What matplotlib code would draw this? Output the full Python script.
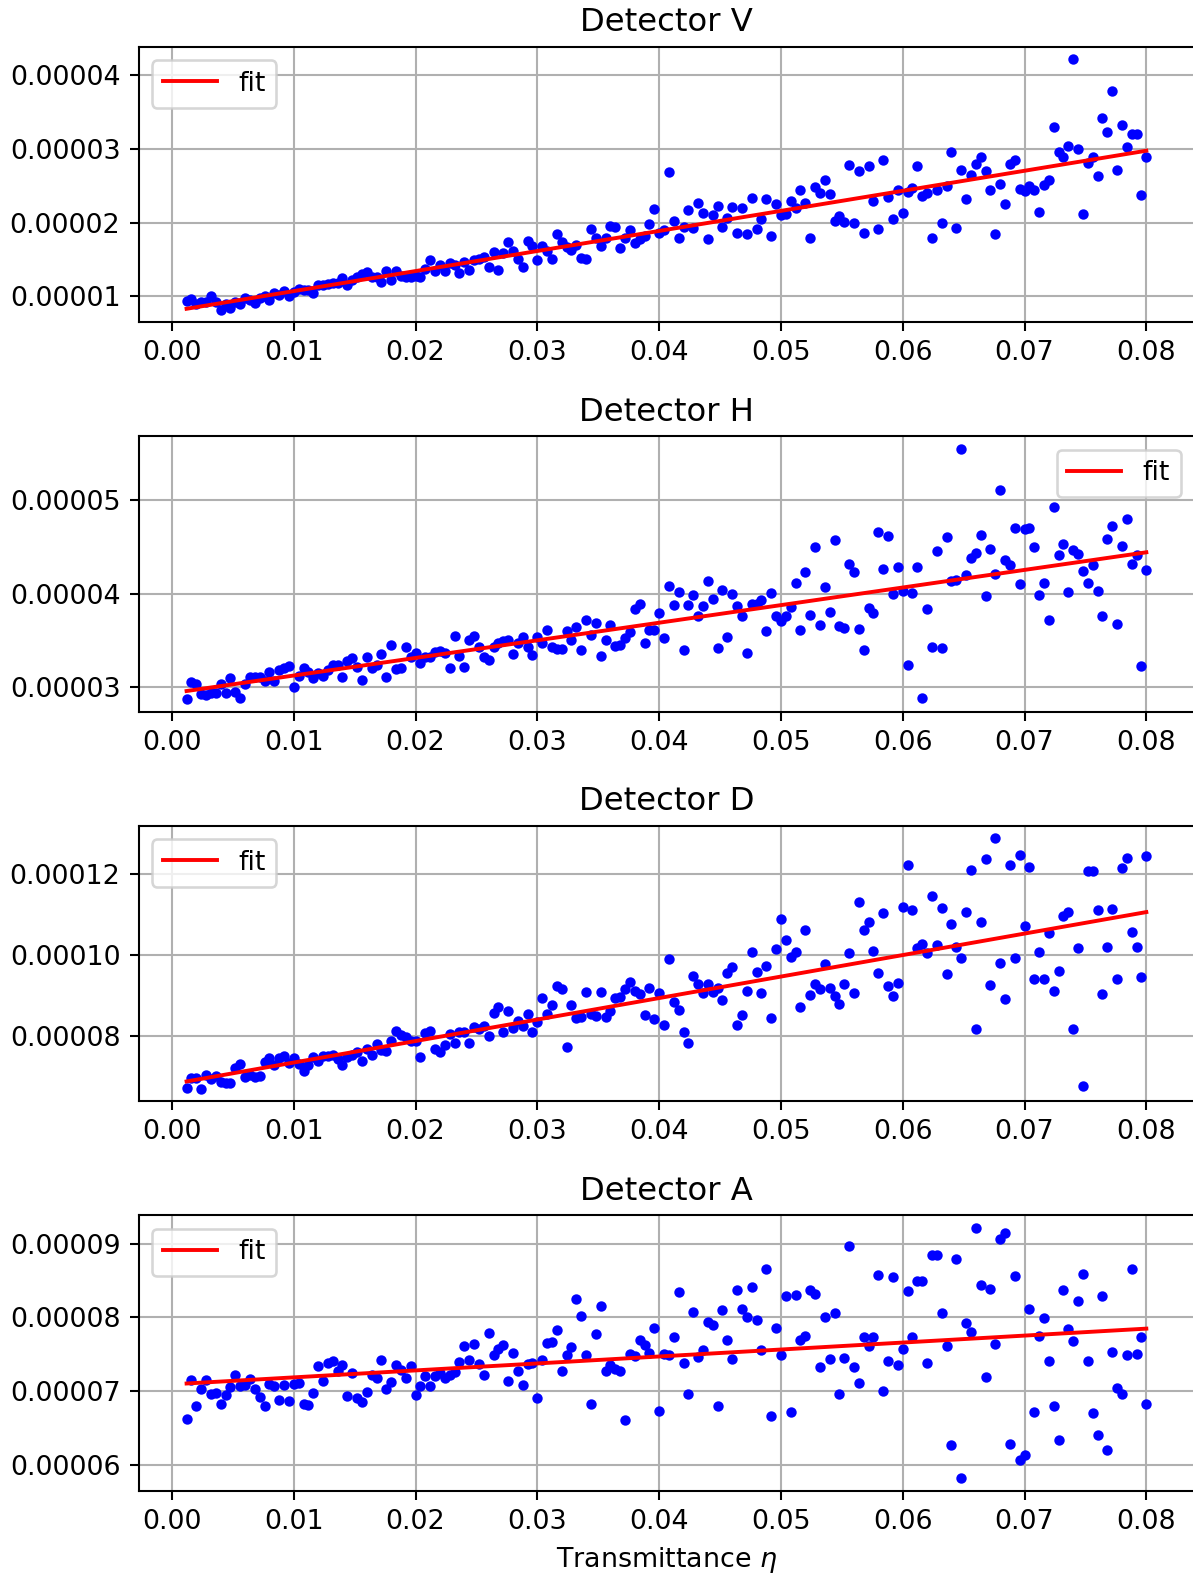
import numpy as np
import matplotlib
matplotlib.use("Agg")
import matplotlib.pyplot as plt
from matplotlib.ticker import ScalarFormatter

# Transmittance grid (step 0.0004 from 0.0012 to 0.08)
eta = 0.0012 + 0.0004 * np.arange(198)

# Detector readings, in units of 1e-5
det_V = np.array([
    0.933, 0.969, 0.90, 0.92, 0.92, 1.00, 0.93, 0.82, 0.90, 0.84,
    0.93, 0.90, 0.98, 0.95, 0.91, 0.98, 1.00, 0.95, 1.05, 1.02,
    1.07, 1.00, 1.06, 1.10, 1.09, 1.09, 1.05, 1.15, 1.16, 1.17,
    1.18, 1.18, 1.25, 1.16, 1.23, 1.27, 1.31, 1.33, 1.26, 1.27,
    1.19, 1.34, 1.22, 1.34, 1.28, 1.27, 1.27, 1.28, 1.27, 1.37,
    1.49, 1.35, 1.43, 1.34, 1.45, 1.42, 1.32, 1.47, 1.36, 1.49,
    1.51, 1.54, 1.40,
    1.597, 1.359, 1.584, 1.732, 1.611, 1.507, 1.404, 1.754, 1.687, 1.498,
    1.687, 1.620, 1.507, 1.853, 1.745, 1.665, 1.633, 1.700, 1.521, 1.503,
    1.912, 1.799, 1.687, 1.790, 1.956, 1.943, 1.656, 1.799, 1.898, 1.723,
    1.777, 1.813, 1.979, 2.190, 1.858, 1.898, 2.684, 2.024, 1.786, 1.947,
    2.172, 1.925, 2.271, 2.136, 1.777, 2.100, 2.226, 1.943, 2.069, 2.217,
    1.867, 2.194, 1.853, 2.338, 1.920, 2.055, 2.316, 1.813, 2.248, 2.100,
    2.114, 2.293, 2.203, 2.441, 2.262, 1.799, 2.482, 2.405, 2.585, 2.383,
    2.024, 2.091, 2.010, 2.787,
    1.992, 2.697, 1.867, 2.774, 2.293, 1.920, 2.846, 2.347, 2.046, 2.437,
    2.127, 2.414, 2.473, 2.774, 2.361, 2.405, 1.795, 2.437, 1.992, 2.495,
    2.958, 1.925, 2.720, 2.316, 2.652, 2.796, 2.890, 2.706, 2.437, 1.844,
    2.531, 2.257, 2.796, 2.855, 2.450, 2.428, 2.495, 2.441, 2.150, 2.504,
    2.585, 3.295, 2.958, 2.886, 3.034, 4.215, 3.003, 2.118, 2.810, 2.890,
    2.630, 3.425, 3.227, 3.788, 2.720, 3.317, 3.021, 3.205, 3.205, 2.370,
    2.886,
])

det_H = np.array([
    2.864, 3.054, 3.032, 2.918, 2.907, 2.936, 2.936, 3.025, 2.929, 3.089,
    2.943, 2.875, 3.025, 3.107, 3.107, 3.107, 3.061, 3.157, 3.061, 3.179,
    3.196, 3.221, 3.000, 3.114, 3.196, 3.157, 3.089, 3.143, 3.114, 3.179,
    3.229, 3.229, 3.104, 3.275, 3.311, 3.211, 3.071, 3.321, 3.196, 3.232,
    3.354, 3.107, 3.443, 3.186, 3.204, 3.425, 3.321, 3.357, 3.250, 3.321,
    3.321, 3.375, 3.382, 3.364, 3.204, 3.543, 3.329, 3.214, 3.500, 3.543,
    3.429, 3.318, 3.286, 3.425, 3.471,
    3.489, 3.500, 3.346, 3.471, 3.536, 3.429, 3.339, 3.532, 3.471, 3.607,
    3.429, 3.400, 3.400, 3.596, 3.500, 3.643, 3.393, 3.711, 3.554, 3.679,
    3.325, 3.504, 3.661, 3.436, 3.446, 3.525, 3.589, 3.839, 3.893, 3.468,
    3.604, 3.607, 3.789, 3.525, 4.086, 3.875, 4.018, 3.393, 3.882, 3.989,
    3.754, 3.871, 4.132, 3.943, 3.411, 4.043, 3.532, 3.996, 3.864, 3.764,
    3.361, 3.893, 3.893, 3.929, 3.596, 4.007, 3.764, 3.704, 3.757, 3.854,
    4.111, 3.614, 4.232, 3.775, 4.504, 3.661, 4.071, 3.804, 4.575, 3.650,
    3.625, 4.318,
    4.229, 3.618, 3.389, 3.846, 3.786, 4.657, 4.264, 4.621, 4.000, 4.286,
    4.025, 3.236, 4.011, 4.286, 2.875, 3.832, 3.429, 4.461, 3.414, 4.607,
    4.132, 4.143, 5.554, 4.204, 4.382, 4.436, 4.625, 3.971, 4.482, 4.211,
    5.107, 4.357, 4.311, 4.704, 4.104, 4.696, 4.704, 4.496, 3.989, 4.114,
    3.718, 4.929, 4.418, 4.532, 4.014, 4.471, 4.425, 4.246, 4.114, 4.307,
    4.025, 3.764, 4.586, 4.721, 3.671, 4.514, 4.800, 4.318, 4.411, 3.225,
    4.250,
])

det_D = np.array([
    6.719, 6.965, 6.965, 6.702, 7.031, 6.949, 7.006, 6.858, 6.834, 6.834,
    7.211, 7.310, 6.981, 7.047, 6.981, 7.006, 7.351, 7.458, 7.277, 7.474,
    7.515, 7.335, 7.458, 7.310, 7.146, 7.277, 7.483, 7.392, 7.499, 7.515,
    7.524, 7.433, 7.277, 7.483, 7.524, 7.622, 7.392, 7.688, 7.540, 7.811,
    7.663, 7.639, 7.893, 8.131, 8.033, 7.975, 7.893, 7.893, 7.483, 8.074,
    8.140, 7.688, 7.606, 7.786, 8.057, 7.828, 8.115, 8.115, 7.844, 8.222,
    8.181, 8.255, 8.016, 8.583, 8.731,
    8.115, 8.624, 8.197, 8.386, 8.263, 8.550, 8.099, 8.361, 8.936, 8.550,
    8.772, 9.249, 9.166, 7.721, 8.772, 8.460, 8.468, 9.084, 8.550, 8.509,
    9.101, 8.476, 8.624, 8.953, 8.977, 9.166, 9.347, 9.125, 9.035, 8.526,
    9.199, 8.427, 9.060, 8.279, 9.897, 8.838, 8.641, 8.107, 7.836, 9.495,
    9.281, 9.060, 9.281, 9.101, 9.199, 8.887, 9.552, 9.700, 8.279, 8.517,
    9.125, 10.086, 9.594, 9.076, 9.741, 8.460, 10.152, 10.883, 10.366, 9.947,
    10.086, 8.715, 10.620, 9.019, 9.298, 9.166, 9.782, 9.183, 9.002, 8.789,
    9.298, 10.062,
    9.060, 11.318, 10.620, 10.809, 10.111, 9.552, 11.031, 9.240, 8.994, 9.322,
    11.179, 12.238, 11.121, 10.185, 10.275, 10.045, 11.458, 10.251, 11.171, 9.528,
    10.768, 10.210, 9.939, 11.072, 12.099, 8.172, 10.826, 12.378, 9.273, 12.887,
    9.815, 8.920, 12.238, 9.922, 12.468, 10.727, 12.173, 9.405, 10.070, 9.405,
    10.555, 9.125, 9.602, 10.973, 11.056, 8.172, 10.177, 6.776, 12.066, 12.066,
    11.105, 9.043, 10.193, 11.130, 9.421, 12.140, 12.395, 10.579, 10.210, 9.470,
    12.452,
])

det_A = np.array([
    6.621, 7.149, 6.802, 7.023, 7.149, 6.959, 6.982, 6.824, 6.946, 7.059,
    7.217, 7.068, 7.081, 7.162, 7.036, 6.923, 6.802, 7.104, 7.072, 6.887,
    7.081, 6.865, 7.104, 7.117, 6.820, 6.811, 6.982, 7.338, 7.140, 7.388,
    7.410, 7.275, 7.361, 6.937, 7.253, 6.910, 6.847, 6.991, 7.217, 7.185,
    7.419, 7.032, 7.126, 7.361, 7.284, 7.185, 7.343, 6.946, 7.072, 7.203,
    7.072, 7.207, 7.248, 7.180, 7.217, 7.262, 7.397, 7.613, 7.419, 7.636,
    7.365, 7.217, 7.789, 7.496, 7.577,
    7.631, 7.135, 7.523, 7.271, 7.081, 7.365, 7.388, 6.901, 7.419, 7.659,
    7.668, 7.825, 7.275, 7.487, 7.600, 8.245, 8.019, 7.487, 6.833, 7.776,
    8.159, 7.271, 7.352, 7.307, 7.271, 6.608, 7.501, 7.474, 7.699, 7.622,
    7.523, 7.853, 6.729, 7.510, 7.496, 7.735, 8.344, 7.388, 6.959, 8.069,
    7.465, 7.564, 7.938, 7.893, 6.797, 8.096, 7.699, 7.438, 8.376, 8.110,
    8.006, 8.416, 7.961, 7.559, 8.660, 6.662, 7.853, 7.496, 8.295, 6.720,
    8.304, 7.690, 7.744, 8.376, 8.317, 7.329, 8.010, 7.442, 8.055, 6.959,
    7.451, 8.962,
    7.334, 7.108, 7.735, 7.613, 7.735, 8.574, 7.009, 7.415, 8.552, 7.352,
    7.577, 8.362, 7.735, 8.493, 8.493, 7.379, 8.840, 8.849, 8.060, 7.613,
    6.269, 8.786, 5.818, 7.920, 7.803, 9.215, 8.434, 7.194, 8.389, 7.641,
    9.057, 9.143, 6.287, 8.556, 6.066, 6.134, 8.110, 6.716, 7.744, 7.988,
    7.406, 6.802, 6.332, 8.371, 7.848, 7.681, 8.218, 8.588, 7.415, 6.702,
    6.400, 8.286, 6.202, 7.528, 7.045, 6.959, 7.492, 8.651, 7.501, 7.740,
    6.833,
])

# Linear fit coefficients [slope, intercept] per detector
fit_V = [2.718e-4, 0.801e-5]
fit_H = [1.890e-4, 2.931e-5]
fit_D = [5.306e-4, 6.819e-5]
fit_A = [0.944e-4, 7.093e-5]

titles = ["Detector V", "Detector H", "Detector D", "Detector A"]
series = [det_V, det_H, det_D, det_A]
fits = [fit_V, fit_H, fit_D, fit_A]
legend_locs = ["upper left", "upper right", "upper left", "upper left"]

plt.rcParams["font.size"] = 10.35

DPI = 187
W, H = 1193, 1576
fig = plt.figure(figsize=(W / DPI, H / DPI), dpi=DPI)

ax_left = 138.6 / W
ax_width = 1055.7 / W
ax_height = 275.6 / H
ax_tops = [46.7, 436.3, 825.7, 1215.3]

for k in range(4):
    bottom = 1 - (ax_tops[k] + 275.6) / H
    ax = fig.add_axes([ax_left, bottom, ax_width, ax_height])
    ax.plot(eta, series[k] * 1e-5, "b.")
    ax.plot(eta, np.polyval(fits[k], eta), "r", label="fit")
    ax.set_title(titles[k])
    ax.grid(True)
    fmt = ScalarFormatter(useOffset=False)
    fmt.set_scientific(False)
    ax.yaxis.set_major_formatter(fmt)
    ax.legend(loc=legend_locs[k])
    if k == 3:
        ax.set_xlabel(r"Transmittance $\eta$")

fig.savefig("out.png", dpi=DPI)
